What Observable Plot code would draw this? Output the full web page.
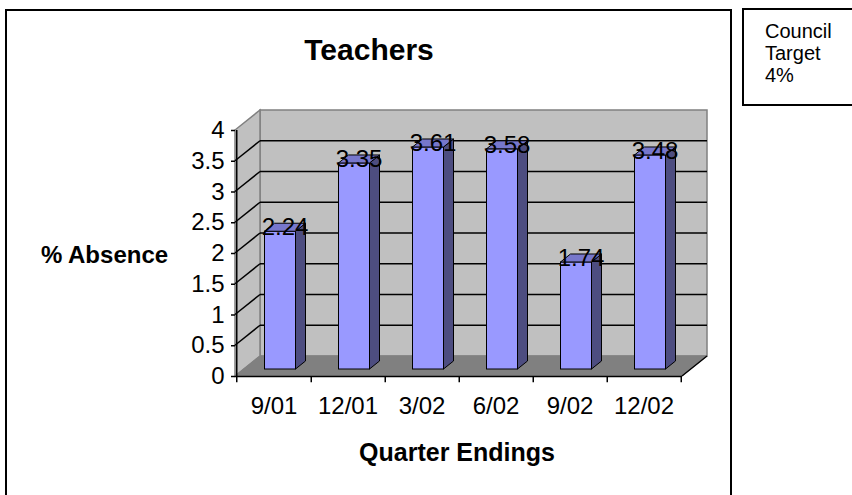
<!DOCTYPE html>
<html>
<head>
<meta charset="utf-8">
<script src="https://cdn.jsdelivr.net/npm/d3@7"></script>
<script src="https://cdn.jsdelivr.net/npm/@observablehq/plot@0.6"></script>
<style>
  body { margin: 0; background: #fff; }
  #wrap { position: relative; width: 852px; height: 495px; overflow: hidden; font-family: "Liberation Sans", Arial, sans-serif; }
  #wrap svg { position: absolute; left: 0; top: 0; }
  #border { position: absolute; left: 5px; top: 9px; width: 723px; height: 520px; border: 2px solid #000; }
  #legend { position: absolute; left: 742px; top: 8px; width: 130px; height: 98px; border: 2px solid #000;
            font-size: 20px; line-height: 22px; padding: 10px 0 0 21px; box-sizing: border-box; color: #000; }
</style>
</head>
<body>
<div id="wrap"></div>
<script>
// ---- data ----
const categories = ["9/01", "12/01", "3/02", "6/02", "9/02", "12/02"];
const absence = [2.24, 3.35, 3.61, 3.58, 1.74, 3.48];
const yTicks = [0, 0.5, 1, 1.5, 2, 2.5, 3, 3.5, 4];
const gridValues = [0.5, 1, 1.5, 2, 2.5, 3, 3.5];
const titleText = "Teachers";
const yLabel = "% Absence";
const xLabel = "Quarter Endings";
const legendLines = ["Council", "Target", "4%"];

const data = categories.map((c, i) => ({quarter: c, value: absence[i]}));

// ---- 3D styling constants (pixels) ----
const DX = 25, DY = -20;     // wall depth
const OX = 6.5, OY = -7;     // bar position inside the depth
const BX = 10, BY = -8;      // bar depth
const FONT = "'Liberation Sans', Arial, sans-serif";

function backdrop(index, scales, values, dim) {
  const sy = scales.y;
  const L = dim.marginLeft, R = dim.width - dim.marginRight;
  const y0 = sy(0), yT = sy(4);
  const g = d3.create("svg:g");
  g.append("rect").attr("x", L + DX).attr("y", yT + DY).attr("width", R - L).attr("height", y0 - yT)
    .attr("fill", "#c0c0c0").attr("stroke", "#808080").attr("stroke-width", 1.5);
  g.append("path").attr("d", `M${L},${y0}L${L},${yT}L${L + DX},${yT + DY}L${L + DX},${y0 + DY}Z`)
    .attr("fill", "#c0c0c0").attr("stroke", "#808080").attr("stroke-width", 1.5);
  g.append("path").attr("d", `M${L},${y0}L${R},${y0}L${R + DX},${y0 + DY}L${L + DX},${y0 + DY}Z`)
    .attr("fill", "#808080").attr("stroke", "#808080").attr("stroke-width", 1);
  for (const v of gridValues) {
    const y = sy(v);
    g.append("line").attr("x1", L + DX).attr("x2", R + DX).attr("y1", y + DY).attr("y2", y + DY)
      .attr("stroke", "#000").attr("stroke-width", 1.5);
    g.append("line").attr("x1", L).attr("x2", L + DX).attr("y1", y).attr("y2", y + DY)
      .attr("stroke", "#000").attr("stroke-width", 1.5);
  }
  g.append("line").attr("x1", R).attr("x2", R + DX).attr("y1", y0).attr("y2", y0 + DY)
    .attr("stroke", "#000").attr("stroke-width", 1.5);
  return g.node();
}

function barSides(index, scales, values, dim) {
  const sx = scales.x, sy = scales.y;
  let bw = typeof sx.bandwidth === "function" ? sx.bandwidth() : sx.bandwidth;
  const g = d3.create("svg:g");
  for (const d of data) {
    const x0 = sx(d.quarter) + OX, x1 = x0 + bw;
    const yb = sy(0) + OY, yt = sy(d.value) + OY;
    g.append("path").attr("d", `M${x1},${yb}L${x1},${yt}L${x1 + BX},${yt + BY}L${x1 + BX},${yb + BY}Z`)
      .attr("fill", "#4d4d80").attr("stroke", "#000").attr("stroke-width", 1).attr("stroke-linejoin", "round");
    g.append("path").attr("d", `M${x0},${yt}L${x1},${yt}L${x1 + BX},${yt + BY}L${x0 + BX},${yt + BY}Z`)
      .attr("fill", "#7777cc").attr("stroke", "#000").attr("stroke-width", 1).attr("stroke-linejoin", "round");
  }
  return g.node();
}

const halfStep = 447 / 6 / 2;

const chart = Plot.plot({
  width: 852,
  height: 495,
  marginLeft: 235,
  marginRight: 170,
  marginTop: 130,
  marginBottom: 119,
  style: {fontFamily: FONT, background: "transparent", color: "#000", overflow: "visible"},
  x: {domain: categories, paddingInner: 0.584, paddingOuter: 0.292, axis: null},
  y: {domain: [0, 4], axis: null},
  marks: [
    backdrop,
    Plot.ruleY([0], {stroke: "#000", strokeWidth: 1.5}),
    Plot.ruleX([categories[0]], {x: d => d, y1: -0.1, y2: 4, dx: -halfStep, stroke: "#000", strokeWidth: 1.5}),
    Plot.ruleX(categories, {x: d => d, y1: -0.1, y2: 0, dx: halfStep, stroke: "#000", strokeWidth: 1.5}),
    Plot.axisY({ticks: yTicks, tickSize: 4, tickPadding: 7, fontSize: 24, tickFormat: d => String(d), label: null, strokeWidth: 1.5}),
    Plot.axisX({tickSize: 0, tickPadding: 20, fontSize: 24, label: null}),
    Plot.barY(data, {x: "quarter", y: "value", fill: "#9999ff", stroke: "#000", strokeWidth: 1, dx: OX, dy: OY}),
    barSides,
    Plot.text(data, {x: "quarter", y: "value", text: d => d.value.toFixed(2), dx: 11, dy: -11, fontSize: 24, fill: "#000"}),
    Plot.text([titleText], {frameAnchor: "top", lineAnchor: "middle", textAnchor: "middle", dx: -90, dy: -80, fontSize: 30, fontWeight: "bold", fill: "#000"}),
    Plot.text([yLabel], {frameAnchor: "left", lineAnchor: "middle", textAnchor: "middle", dx: -131, dy: 2, fontSize: 24, fontWeight: "bold", fill: "#000"}),
    Plot.text([xLabel], {frameAnchor: "bottom", lineAnchor: "middle", textAnchor: "middle", dx: -2, dy: 76, fontSize: 25, fontWeight: "bold", fill: "#000"})
  ]
});

const wrap = document.getElementById("wrap");
wrap.appendChild(chart);
const border = document.createElement("div");
border.id = "border";
wrap.appendChild(border);
const legend = document.createElement("div");
legend.id = "legend";
legend.innerHTML = legendLines.join("<br>");
wrap.appendChild(legend);
</script>
</body>
</html>
